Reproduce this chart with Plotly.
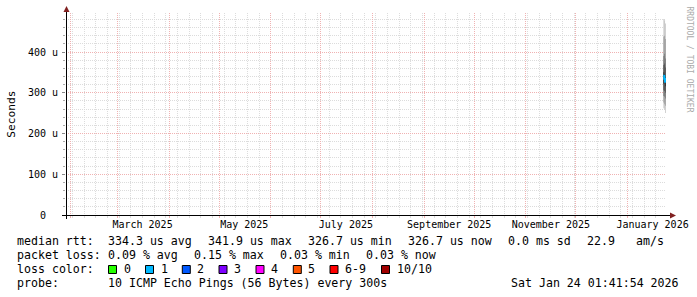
import numpy as np
import pandas as pd
import plotly.graph_objects as go

# ---------------- data ----------------
range_start = "2025-01-29 01:41:54"
range_end = "2026-01-24 01:41:54"

step_starts = ["2026-01-22 12:00", "2026-01-23 00:00", "2026-01-23 12:00"]
step_hours = 12

# 10 sorted ping rtts per step (microseconds)
ping_step1 = [262, 276, 292, 306, 322, 350, 368, 390, 438, 481]
ping_step2 = [258, 272, 290, 304, 324, 346, 372, 396, 440, 478]
ping_step3 = [250, 268, 286, 300, 316, 338, 362, 384, 432, 470]

median_rtt = [341.9, 334.3, 326.7]          # microseconds
packet_loss = [0.15, 0.09, 0.03]            # percent
rtt_sd_text = "0.0 ms sd"
am_s_text = "22.9"

month_labels = ["March 2025", "May 2025", "July 2025",
                "September 2025", "November 2025", "January 2026"]
month_label_starts = ["2025-03-01", "2025-05-01", "2025-07-01",
                      "2025-09-01", "2025-11-01", "2026-01-01"]

y_tick_values_us = [0, 100, 200, 300, 400]
y_tick_labels = ["0\u00a0\u00a0", "100 u", "200 u", "300 u", "400 u"]
y_top_us = 495.7

loss_names = ["0", "1", "2", "3", "4", "5", "6-9", "10/10"]
loss_colors = ["#26ff00", "#00b8ff", "#0059ff", "#7e00ff",
               "#ff00ff", "#ff5500", "#ff0000", "#a10000"]

probe_text = "10 ICMP Echo Pings (56 Bytes) every 300s"
stamp_text = "Sat Jan 24 01:41:54 2026"

# ---------------- geometry helpers ----------------
W, H = 697, 297
L, R, T, B = 66, 666, 13, 215
FONT = "DejaVu Sans Mono"


def px(xp):
    return (xp - L) / (R - L)


def py(yp):
    return (B - yp) / (B - T)


pings = np.array([ping_step1, ping_step2, ping_step3], dtype=float) * 1e-6
starts = pd.to_datetime(step_starts)
edges = list(starts) + [starts[-1] + pd.Timedelta(hours=step_hours)]

fig = go.Figure()
# empty trace to hold the main (grid) subplot
fig.add_trace(go.Scatter(x=[], y=[], xaxis="x", yaxis="y", showlegend=False))

n_half = pings.shape[1] // 2
for k in range(n_half):
    g = int(190 / n_half * (n_half - 1 - k)) + 50
    col = f"rgb({g},{g},{g})"
    lo = pings[:, k]
    hi = pings[:, pings.shape[1] - 1 - k]
    xs, ys = [], []
    for i in range(len(starts)):
        xs += [edges[i], edges[i + 1]]
        ys += [hi[i], hi[i]]
    for i in reversed(range(len(starts))):
        xs += [edges[i + 1], edges[i]]
        ys += [lo[i], lo[i]]
    fig.add_trace(go.Scatter(x=xs, y=ys, fill="toself", fillcolor=col,
                             mode="lines", line=dict(width=0, color=col),
                             xaxis="x2", yaxis="y", showlegend=False,
                             hoverinfo="skip"))

med = np.array(median_rtt) * 1e-6
fig.add_trace(go.Scatter(x=edges, y=list(med) + [med[-1]], mode="lines",
                         line=dict(shape="hv", width=2, color=loss_colors[1]),
                         xaxis="x2", yaxis="y", showlegend=False))

# ---------------- axes ----------------
minor_grid = "#dcdcdc"
major_grid = "#f0b2b2"
label_vals = [pd.Timestamp(m) + pd.Timedelta(days=15) for m in month_label_starts]

fig.update_layout(
    width=W, height=H, autosize=False,
    margin=dict(l=L, r=W - R, t=T, b=H - B, pad=0),
    paper_bgcolor="white", plot_bgcolor="white",
    showlegend=False,
    font=dict(family=FONT, size=10, color="#000000"),
    xaxis=dict(type="date", range=[range_start, range_end], automargin=False,
               tick0="2025-02-01", dtick="M1",
               showgrid=True, gridcolor=major_grid, griddash="1px,1px", gridwidth=1,
               ticks="outside", ticklen=2, tickcolor=major_grid,
               showticklabels=False, zeroline=False, showline=False,
               minor=dict(tick0="2025-02-02", dtick=7 * 86400000,
                          showgrid=True, gridcolor=minor_grid,
                          griddash="1px,1px", gridwidth=1,
                          ticks="outside", ticklen=2, tickcolor=minor_grid)),
    xaxis2=dict(type="date", overlaying="x", matches="x", anchor="y",
                range=[range_start, range_end], automargin=False,
                tickmode="array", tickvals=label_vals, ticktext=month_labels,
                showgrid=False, ticks="", zeroline=False, showline=False,
                tickfont=dict(family=FONT, size=10, color="#000000"),
                ticklabelstandoff=2),
    yaxis=dict(range=[0, y_top_us * 1e-6], automargin=False,
               tickmode="array",
               tickvals=[v * 1e-6 for v in y_tick_values_us],
               ticktext=y_tick_labels,
               showgrid=True, gridcolor=major_grid, griddash="1px,1px", gridwidth=1,
               ticks="outside", ticklen=3, tickcolor="#888888",
               zeroline=False, showline=False,
               tickfont=dict(family=FONT, size=10, color="#000000"),
               ticklabelstandoff=2,
               minor=dict(dtick=20e-6, tick0=0, showgrid=True,
                          gridcolor=minor_grid, griddash="1px,1px", gridwidth=1,
                          ticks="outside", ticklen=2, tickcolor="#aaaaaa")),
)

# axis lines and arrows
arrow_col = "#802020"
shapes = [
    dict(type="line", xref="paper", yref="paper", x0=px(62), x1=px(672),
         y0=py(215.5), y1=py(215.5), line=dict(color="#000000", width=1), layer="above"),
    dict(type="line", xref="paper", yref="paper", x0=px(66.5), x1=px(66.5),
         y0=py(219), y1=py(10), line=dict(color="#000000", width=1), layer="above"),
    dict(type="path", xref="paper", yref="paper", layer="above",
         path=f"M {px(66.5)} {py(6)} L {px(63.5)} {py(12)} L {px(69.5)} {py(12)} Z",
         fillcolor=arrow_col, line=dict(width=0)),
    dict(type="path", xref="paper", yref="paper", layer="above",
         path=f"M {px(676)} {py(215.5)} L {px(670)} {py(212.5)} L {px(670)} {py(218.5)} Z",
         fillcolor=arrow_col, line=dict(width=0)),
]

annots = []


def txt(x, y, s, anchor="left", size=11.6, color="#000000", angle=0):
    annots.append(dict(x=px(x), y=py(y), xref="paper", yref="paper", text=s,
                       showarrow=False, xanchor=anchor, yanchor="middle",
                       textangle=angle, borderpad=0,
                       font=dict(family=FONT, size=size, color=color)))


# y axis title
txt(10.7, 114, "Seconds", anchor="center", size=11.2, angle=-90)
# watermark
txt(688.5, 59, "RRDTOOL / TOBI OETIKER", anchor="center", size=8,
    color="#aaaaaa", angle=90)

# legend text
row1, row2, row3, row4 = 241.5, 255, 269.3, 283.3
med_avg = np.mean(median_rtt)
txt(16, row1, "median rtt:")
txt(107, row1, f"{med_avg:.1f} us avg")
txt(207, row1, f"{max(median_rtt):.1f} us max")
txt(307, row1, f"{min(median_rtt):.1f} us min")
txt(407, row1, f"{median_rtt[-1]:.1f} us now")
txt(507, row1, rtt_sd_text)
txt(586, row1, am_s_text)
txt(635, row1, "am/s")

txt(16, row2, "packet loss:")
txt(107, row2, f"{np.mean(packet_loss):.2f} % avg")
txt(193, row2, f"{max(packet_loss):.2f} % max")
txt(279, row2, f"{min(packet_loss):.2f} % min")
txt(365, row2, f"{packet_loss[-1]:.2f} % now")

txt(16, row3, "loss color:")
box_x = [108.5, 145.5, 182.3, 219, 256, 293.3, 330, 381.5]
for i, (nm, c) in enumerate(zip(loss_names, loss_colors)):
    bx = box_x[i]
    shapes.append(dict(type="rect", xref="paper", yref="paper",
                       x0=px(bx), x1=px(bx + 8), y0=py(265.5), y1=py(273.5),
                       fillcolor=c, line=dict(color="#000000", width=1)))
    txt(bx + 14, row3, nm)

txt(16, row4, "probe:")
txt(107, row4, probe_text)
txt(680, row4, stamp_text, anchor="right")

fig.update_layout(shapes=shapes, annotations=annots)
fig.write_html("out.html")
